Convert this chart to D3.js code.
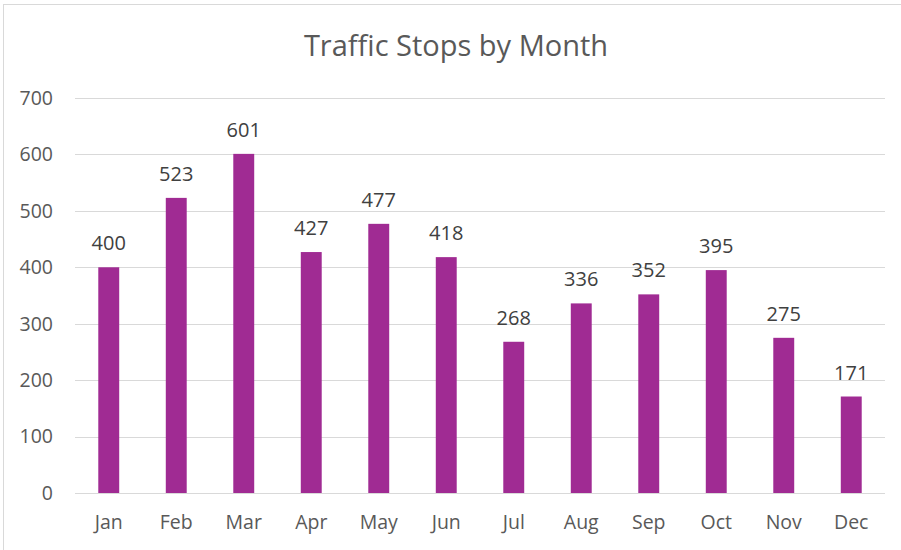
<html>
<head>
<meta charset="utf-8">
<style>
  body { margin: 0; background: #fff; }
  text { font-family: "Open Sans", sans-serif; }
  .grid line { stroke: #d9d9d9; stroke-width: 1px; }
  .tick-label { fill: #595959; font-size: 19.5px; }
  .bar { fill: #a02b93; }
  .val { fill: #404040; font-size: 20px; }
</style>
</head>
<body>
<svg width="901" height="550"></svg>
<script src="https://d3js.org/d3.v7.min.js"></script>
<script>
var months = ["Jan", "Feb", "Mar", "Apr", "May", "Jun", "Jul", "Aug", "Sep", "Oct", "Nov", "Dec"];
var stops = [400, 523, 601, 427, 477, 418, 268, 336, 352, 395, 275, 171];
var yTicks = [0, 100, 200, 300, 400, 500, 600, 700];

var svg = d3.select("svg");

// chart frame
svg.append("rect")
  .attr("x", 3.5).attr("y", 4.5)
  .attr("width", 905).attr("height", 560)
  .attr("fill", "#fff")
  .attr("stroke", "#d9d9d9");

var x = d3.scaleBand()
  .domain(months)
  .range([75, 885])
  .paddingInner(0.69)
  .paddingOuter(0.345);

var y = d3.scaleLinear()
  .domain([0, 700])
  .range([493, 98]);

svg.append("text")
  .attr("x", 456).attr("y", 56)
  .attr("text-anchor", "middle")
  .attr("fill", "#595959")
  .style("font-size", "29px")
  .text("Traffic Stops by Month");

var grid = svg.append("g").attr("class", "grid");
grid.selectAll("line")
  .data(yTicks)
  .enter().append("line")
  .attr("x1", 75).attr("x2", 885)
  .attr("y1", function(d) { return Math.round(y(d)) + 0.5; })
  .attr("y2", function(d) { return Math.round(y(d)) + 0.5; });

svg.selectAll(".ylab")
  .data(yTicks)
  .enter().append("text")
  .attr("class", "tick-label")
  .attr("x", 53)
  .attr("y", function(d) { return y(d); })
  .attr("dy", "0.35em")
  .attr("text-anchor", "end")
  .text(function(d) { return d; });

svg.selectAll(".xlab")
  .data(months)
  .enter().append("text")
  .attr("class", "tick-label")
  .attr("x", function(d) { return x(d) + x.bandwidth() / 2; })
  .attr("y", 529)
  .attr("text-anchor", "middle")
  .text(function(d) { return d; });

svg.selectAll(".bar")
  .data(stops)
  .enter().append("rect")
  .attr("class", "bar")
  .attr("x", function(d, i) { return x(months[i]); })
  .attr("width", x.bandwidth())
  .attr("y", function(d) { return y(d); })
  .attr("height", function(d) { return y(0) - y(d); });

svg.selectAll(".val")
  .data(stops)
  .enter().append("text")
  .attr("class", "val")
  .attr("x", function(d, i) { return x(months[i]) + x.bandwidth() / 2; })
  .attr("y", function(d) { return y(d) - 17; })
  .attr("text-anchor", "middle")
  .text(function(d) { return d; });
</script>
</body>
</html>
